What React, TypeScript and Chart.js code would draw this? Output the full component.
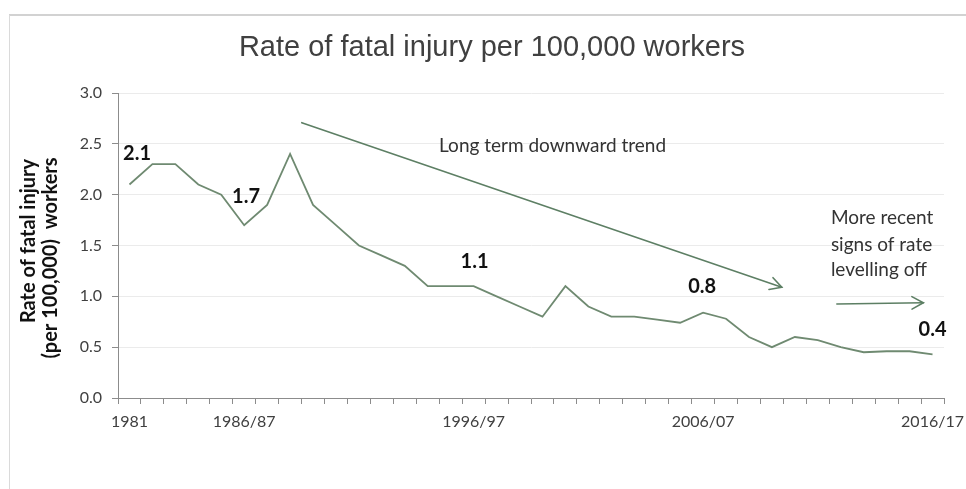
import React, { useEffect, useRef } from "react";
import { Chart, registerables } from "chart.js";

Chart.register(...registerables);

// ---- data ----
const categories: string[] = [
  "1981", "1982", "1983", "1984", "1985", "1986/87", "1987/88", "1988/89", "1989/90",
  "1990/91", "1991/92", "1992/93", "1993/94", "1994/95", "1995/96", "1996/97", "1997/98",
  "1998/99", "1999/00", "2000/01", "2001/02", "2002/03", "2003/04", "2004/05", "2005/06",
  "2006/07", "2007/08", "2008/09", "2009/10", "2010/11", "2011/12", "2012/13", "2013/14",
  "2014/15", "2015/16", "2016/17",
];
const rates: number[] = [
  2.1, 2.3, 2.3, 2.1, 2.0, 1.7, 1.9, 2.4, 1.9, 1.7, 1.5, 1.4, 1.3, 1.1, 1.1, 1.1, 1.0, 0.9,
  0.8, 1.1, 0.9, 0.8, 0.8, 0.77, 0.74, 0.84, 0.78, 0.6, 0.5, 0.6, 0.57, 0.5, 0.45, 0.46,
  0.46, 0.43,
];
const shownTickLabels: string[] = ["1981", "1986/87", "1996/97", "2006/07", "2016/17"];
const yTickMin = 0;
const yTickMax = 3;
const yTickStep = 0.5;

const titleText = "Rate of fatal injury per 100,000 workers";
const yTitleLines: string[] = ["Rate of fatal injury", "(per 100,000)  workers"];

// annotations, in (category index, value) coordinates
const valueLabels = [
  { text: "2.1", x: 0.33, y: 2.405 },
  { text: "1.7", x: 5.08, y: 1.977 },
  { text: "1.1", x: 15.04, y: 1.343 },
  { text: "0.8", x: 24.96, y: 1.092 },
  { text: "0.4", x: 35.0, y: 0.674 },
];
const trendText = { text: "Long term downward trend", x: 18.44, y: 2.483 };
const recentLines = [
  { text: "More recent", x: 30.57, y: 1.77 },
  { text: "signs of rate", x: 30.57, y: 1.505 },
  { text: "levelling off", x: 30.57, y: 1.259 },
];
const arrows = [
  { x1: 7.51, y1: 2.708, x2: 28.43, y2: 1.089 },
  { x1: 30.83, y1: 0.925, x2: 34.6, y2: 0.937 },
];

const LINE_COLOR = "#6f8a71";
const ARROW_COLOR = "#5d7f64";
const TEXT_COLOR = "#404040";
const AXIS_COLOR = "#8c8c8c";

const overlayPlugin = {
  id: "overlay",
  beforeDraw(chart: any) {
    const ctx = chart.ctx;
    ctx.save();
    ctx.fillStyle = "#ffffff";
    ctx.fillRect(0, 0, chart.width, chart.height);
    ctx.strokeStyle = "#d2d2d2";
    ctx.lineWidth = 2;
    ctx.beginPath();
    ctx.moveTo(9, 15);
    ctx.lineTo(chart.width, 15);
    ctx.stroke();
    ctx.lineWidth = 1;
    ctx.strokeStyle = "#dadada";
    ctx.beginPath();
    ctx.moveTo(9.5, 15);
    ctx.lineTo(9.5, chart.height);
    ctx.stroke();
    ctx.restore();
  },
  afterDraw(chart: any) {
    const ctx = chart.ctx;
    const xs = chart.scales.x;
    const ys = chart.scales.y;
    const px = (v: number) => xs.getPixelForValue(v);
    const py = (v: number) => ys.getPixelForValue(v);
    ctx.save();

    // title
    ctx.fillStyle = TEXT_COLOR;
    ctx.font = "normal 29px 'Liberation Sans', Arial, sans-serif";
    ctx.textAlign = "center";
    ctx.textBaseline = "middle";
    ctx.fillText(titleText, 492, 48);

    // y axis title
    ctx.font = "bold 20px Lato, sans-serif";
    ctx.fillStyle = "#111111";
    const centers = [
      { x: 29, y: 241 },
      { x: 51, y: 258 },
    ];
    yTitleLines.forEach((line, i) => {
      ctx.save();
      ctx.translate(centers[i].x, centers[i].y);
      ctx.rotate(-Math.PI / 2);
      ctx.textAlign = "center";
      ctx.textBaseline = "middle";
      ctx.fillText(line, 0, 0);
      ctx.restore();
    });

    // value labels
    ctx.font = "bold 20px Lato, sans-serif";
    ctx.fillStyle = "#111111";
    ctx.textAlign = "center";
    ctx.textBaseline = "middle";
    valueLabels.forEach((l) => ctx.fillText(l.text, px(l.x), py(l.y)));

    // text notes
    ctx.font = "normal 19px Lato, sans-serif";
    ctx.fillStyle = "#333333";
    ctx.textAlign = "center";
    ctx.fillText(trendText.text, px(trendText.x), py(trendText.y));
    ctx.textAlign = "left";
    recentLines.forEach((l) => ctx.fillText(l.text, px(l.x), py(l.y)));

    // arrows
    ctx.strokeStyle = ARROW_COLOR;
    ctx.lineWidth = 1.6;
    ctx.lineCap = "round";
    arrows.forEach((a) => {
      const x1 = px(a.x1), y1 = py(a.y1), x2 = px(a.x2), y2 = py(a.y2);
      ctx.beginPath();
      ctx.moveTo(x1, y1);
      ctx.lineTo(x2, y2);
      ctx.stroke();
      const ang = Math.atan2(y2 - y1, x2 - x1);
      const len = 13;
      const spread = 0.5;
      ctx.beginPath();
      ctx.moveTo(x2 - len * Math.cos(ang - spread), y2 - len * Math.sin(ang - spread));
      ctx.lineTo(x2, y2);
      ctx.lineTo(x2 - len * Math.cos(ang + spread), y2 - len * Math.sin(ang + spread));
      ctx.stroke();
    });
    ctx.restore();
  },
};

export default function App() {
  const canvasRef = useRef<HTMLCanvasElement | null>(null);

  useEffect(() => {
    document.body.style.margin = "0";
    const canvas = canvasRef.current;
    if (!canvas) return;
    const chart = new Chart(canvas, {
      type: "line",
      data: {
        labels: categories,
        datasets: [
          {
            data: rates,
            borderColor: LINE_COLOR,
            borderWidth: 1.8,
            pointRadius: 0,
            tension: 0,
            fill: false,
          },
        ],
      },
      options: {
        animation: false,
        responsive: false,
        devicePixelRatio: 1,
        layout: { padding: { top: 93, left: 0, right: 22, bottom: 0 } },
        plugins: {
          legend: { display: false },
          title: { display: false },
          tooltip: { enabled: false },
        },
        scales: {
          x: {
            type: "category",
            offset: true,
            afterFit: (scale: any) => {
              scale.height = 91;
              scale.paddingLeft = 0;
              scale.paddingRight = 0;
            },
            grid: {
              offset: true,
              drawOnChartArea: false,
              drawTicks: true,
              tickLength: 6,
              tickColor: AXIS_COLOR,
            },
            border: { color: AXIS_COLOR, width: 1 },
            ticks: {
              autoSkip: false,
              maxRotation: 0,
              minRotation: 0,
              padding: 8,
              color: TEXT_COLOR,
              font: { family: "Lato", size: 16 },
              callback: (_v: any, i: number) =>
                shownTickLabels.includes(categories[i]) ? categories[i] : "",
            },
          },
          y: {
            min: yTickMin,
            max: yTickMax,
            afterFit: (scale: any) => {
              scale.width = 118;
              scale.paddingTop = 0;
              scale.paddingBottom = 0;
            },
            grid: {
              color: "#ebebeb",
              drawTicks: true,
              tickLength: 6,
              tickColor: AXIS_COLOR,
            },
            border: { color: AXIS_COLOR, width: 1 },
            ticks: {
              stepSize: yTickStep,
              padding: 10,
              color: TEXT_COLOR,
              font: { family: "Lato", size: 16 },
              callback: (v: any) => Number(v).toFixed(1),
            },
          },
        },
      },
      plugins: [overlayPlugin],
    });
    return () => chart.destroy();
  }, []);

  return (
    <div style={{ width: 966, height: 489 }}>
      <canvas ref={canvasRef} width={966} height={489} style={{ display: "block" }} />
    </div>
  );
}
